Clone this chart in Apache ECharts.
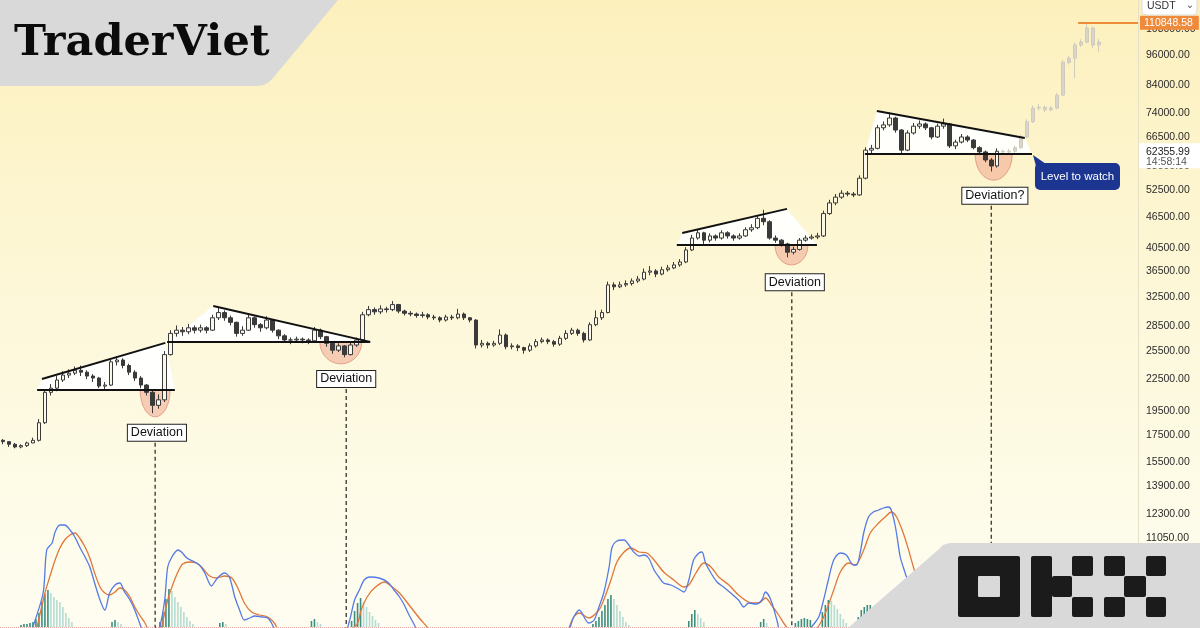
<!DOCTYPE html>
<html>
<head>
<meta charset="utf-8">
<script src="https://cdn.jsdelivr.net/npm/echarts@6/dist/echarts.min.js"></script>
<style>
  html, body { margin: 0; padding: 0; }
  #chart { width: 1200px; height: 628px; }
</style>
</head>
<body>
<div id="chart"></div>
<script>
// BTC/USDT candles, thousand USDT: [open, close, low, high]
const candles = [
  [17.1, 17.0, 16.8, 17.2], [17.0, 16.8, 16.6, 17.0], [16.8, 16.6, 16.5, 16.9], [16.6, 16.7, 16.5, 16.8],
  [16.7, 16.9, 16.6, 17.0], [16.9, 17.1, 16.9, 17.3], [17.1, 18.5, 17.0, 18.8], [18.5, 21.2, 18.4, 21.5],
  [21.2, 21.6, 20.9, 22.0], [21.6, 22.4, 21.3, 22.8], [22.4, 22.9, 22.2, 23.3], [22.9, 23.1, 22.6, 23.5],
  [23.1, 23.4, 22.9, 23.8], [23.4, 23.2, 22.8, 23.9], [23.2, 22.8, 22.5, 23.4], [22.8, 22.6, 22.2, 23.0],
  [22.6, 21.8, 21.6, 22.7], [21.8, 21.9, 21.5, 22.2], [21.9, 24.3, 21.8, 24.6], [24.3, 24.5, 23.9, 24.9],
  [24.5, 23.9, 23.6, 24.7], [23.9, 23.2, 22.9, 24.1], [23.2, 22.6, 22.3, 23.4], [22.6, 21.9, 21.6, 22.8],
  [21.9, 21.2, 20.9, 22.0], [21.2, 20.0, 19.3, 21.4], [20.0, 20.5, 19.7, 21.0], [20.5, 25.1, 20.3, 25.5],
  [25.1, 27.6, 25.0, 28.0], [27.6, 28.0, 27.2, 28.6], [28.0, 27.8, 27.3, 28.4], [27.8, 28.3, 27.5, 28.8],
  [28.3, 28.0, 27.6, 28.6], [28.0, 28.3, 27.7, 28.7], [28.3, 28.0, 27.6, 28.5], [28.0, 29.6, 27.9, 30.0],
  [29.6, 30.3, 29.3, 31.0], [30.3, 29.6, 29.2, 30.6], [29.6, 29.0, 28.6, 29.9], [29.0, 27.6, 27.2, 29.1],
  [27.6, 28.0, 27.3, 28.5], [28.0, 29.6, 27.9, 30.0], [29.6, 28.7, 28.3, 29.8], [28.7, 28.3, 27.8, 28.9],
  [28.3, 29.3, 28.1, 29.8], [29.3, 28.0, 27.7, 29.4], [28.0, 27.3, 26.9, 28.1], [27.3, 26.8, 26.5, 27.5],
  [26.8, 26.8, 26.3, 27.1], [26.8, 26.9, 26.5, 27.2], [26.9, 26.8, 26.4, 27.1], [26.8, 26.7, 26.3, 27.0],
  [26.7, 28.0, 26.6, 28.4], [28.0, 27.2, 26.9, 28.2], [27.2, 26.4, 26.0, 27.3], [26.4, 25.6, 25.2, 26.6],
  [25.6, 26.1, 25.4, 26.4], [26.1, 25.1, 24.8, 26.2], [25.1, 26.2, 25.0, 26.5], [26.2, 26.8, 26.0, 27.1],
  [26.8, 30.0, 26.7, 30.4], [30.0, 30.7, 29.8, 31.2], [30.7, 30.4, 30.0, 31.0], [30.4, 30.8, 30.1, 31.3],
  [30.8, 30.7, 30.3, 31.1], [30.7, 31.4, 30.5, 31.9], [31.4, 30.5, 30.2, 31.5], [30.5, 30.2, 29.9, 30.7],
  [30.2, 30.1, 29.8, 30.5], [30.1, 29.9, 29.6, 30.3], [29.9, 30.0, 29.6, 30.4], [30.0, 29.7, 29.4, 30.2],
  [29.7, 29.6, 29.3, 30.0], [29.6, 29.3, 29.0, 29.8], [29.3, 29.7, 29.1, 30.0], [29.7, 29.6, 29.3, 30.0],
  [29.6, 30.1, 29.4, 30.8], [30.1, 29.6, 29.3, 30.3], [29.6, 29.3, 29.0, 29.7], [29.3, 26.2, 25.8, 29.4],
  [26.2, 26.4, 25.9, 26.8], [26.4, 26.2, 25.8, 26.6], [26.2, 26.4, 26.0, 26.7], [26.4, 27.4, 26.2, 28.1],
  [27.4, 26.0, 25.7, 27.6], [26.0, 26.1, 25.7, 26.4], [26.1, 25.9, 25.5, 26.3], [25.9, 25.6, 25.2, 26.0],
  [25.6, 26.1, 25.4, 26.4], [26.1, 26.6, 25.9, 26.9], [26.6, 26.8, 26.4, 27.1], [26.8, 26.6, 26.3, 27.0],
  [26.6, 26.3, 26.0, 26.8], [26.3, 27.0, 26.1, 27.3], [27.0, 27.6, 26.8, 28.0], [27.6, 28.0, 27.4, 28.3],
  [28.0, 27.6, 27.3, 28.2], [27.6, 26.8, 26.5, 27.8], [26.8, 28.7, 26.7, 29.0], [28.7, 29.6, 28.5, 30.6],
  [29.6, 30.3, 29.3, 30.7], [30.3, 34.3, 30.2, 34.8], [34.3, 34.0, 33.5, 34.7], [34.0, 34.3, 33.8, 34.8],
  [34.3, 34.5, 34.0, 35.0], [34.5, 34.9, 34.2, 35.3], [34.9, 35.2, 34.6, 35.7], [35.2, 36.3, 35.0, 36.9],
  [36.3, 36.5, 35.8, 37.3], [36.5, 36.0, 35.5, 36.8], [36.0, 36.7, 35.8, 37.2], [36.7, 37.0, 36.4, 37.5],
  [37.0, 37.5, 36.8, 38.0], [37.5, 38.0, 37.2, 38.5], [38.0, 40.1, 37.8, 40.6], [40.1, 42.3, 39.9, 42.9],
  [42.3, 43.3, 42.0, 44.0], [43.3, 41.9, 41.2, 43.5], [41.9, 42.7, 41.5, 43.2], [42.7, 42.3, 41.8, 43.0],
  [42.3, 43.3, 42.0, 43.8], [43.3, 42.7, 42.2, 43.6], [42.7, 42.3, 41.8, 43.0], [42.3, 42.7, 42.0, 43.2],
  [42.7, 43.9, 42.5, 44.4], [43.9, 44.3, 43.5, 45.0], [44.3, 46.2, 44.0, 46.8], [46.2, 45.5, 44.8, 48.0],
  [45.5, 42.3, 42.0, 45.8], [42.3, 41.9, 41.4, 42.8], [41.9, 41.2, 40.7, 42.1], [41.2, 39.7, 38.8, 41.4],
  [39.7, 40.2, 39.3, 40.7], [40.2, 41.9, 40.0, 42.3], [41.9, 42.3, 41.6, 42.8], [42.3, 42.5, 42.0, 43.0],
  [42.5, 42.7, 42.1, 43.3], [42.7, 47.2, 42.5, 47.8], [47.2, 49.5, 46.9, 50.2], [49.5, 50.8, 49.0, 51.5],
  [50.8, 51.7, 50.4, 52.4], [51.7, 51.5, 51.0, 52.2], [51.5, 51.3, 50.8, 52.0], [51.3, 55.3, 51.1, 56.0],
  [55.3, 62.7, 55.0, 63.5], [62.7, 63.2, 61.8, 64.2], [63.2, 69.3, 62.9, 70.2], [69.3, 70.2, 68.5, 71.3],
  [70.2, 72.4, 69.6, 74.2], [72.4, 68.6, 67.8, 72.8], [68.6, 62.7, 61.8, 68.9], [62.7, 67.7, 62.4, 68.5],
  [67.7, 69.8, 67.2, 70.8], [69.8, 70.5, 69.0, 71.6], [70.5, 69.3, 68.6, 71.0], [69.3, 66.5, 65.8, 69.6],
  [66.5, 69.8, 66.2, 70.6], [69.8, 70.5, 69.0, 72.2], [70.5, 63.9, 63.3, 70.8], [63.9, 65.0, 63.0, 65.7],
  [65.0, 66.5, 64.6, 67.4], [66.5, 65.6, 65.0, 67.0], [65.6, 63.4, 62.9, 65.9], [63.4, 62.2, 61.6, 63.8],
  [62.2, 60.0, 59.4, 62.6], [60.0, 58.4, 57.0, 60.5], [58.4, 62.4, 58.0, 63.2],
  // projection (drawn in grey)
  [62.4, 62.2, 61.6, 62.9], [62.2, 62.4, 61.8, 63.0], [62.4, 63.4, 62.0, 64.0], [63.4, 66.5, 63.1, 67.2],
  [66.5, 71.2, 66.2, 72.0], [71.2, 75.7, 70.8, 76.6], [75.7, 76.0, 74.9, 77.0], [76.0, 75.1, 74.3, 76.5],
  [75.1, 75.7, 74.6, 76.4], [75.7, 80.2, 75.3, 81.0], [80.2, 92.9, 79.8, 93.8], [92.9, 94.6, 92.0, 95.5],
  [94.6, 100.4, 86.5, 101.5], [100.4, 101.7, 99.5, 103.0], [101.7, 108.3, 101.2, 110.85], [108.3, 100.4, 99.0, 109.0],
  [100.4, 101.7, 97.5, 103.0]
]
const projectionStart = 167
const slotCount = 190

const priceTicks = [11050, 12300, 13900, 15500, 17500, 19500, 22500, 25500, 28500, 32500, 36500,
  40500, 46500, 52500, 58500, 66500, 74000, 84000, 96000, 108000]
const yMin = 7380
const yMax = 122800
const lastPrice = 62355.99
const lastTime = '14:58:14'
const athPrice = 110848.58
const athFrom = 179.5

// indicator (arbitrary units): [bar index, value]
const macdLine = [[4.5,-10],[5.0,0],[6.7,34],[7.3,77],[8.2,84],[8.7,95],[9.5,102],[10.3,102],[11.2,97],[12.0,90],
  [12.8,80],[13.7,70],[14.5,60],[15.3,44],[16.2,27],[17.0,17],[17.8,34],[18.7,42],[19.5,44],[20.3,35],[21.2,27],
  [22.0,17],[22.8,4],[23.7,-10],[25.0,-25],[26.2,0],[27.0,27],[27.5,60],[28.2,70],[29.2,77],[29.8,75],[30.7,69],
  [32.0,65],[32.8,62],[33.7,54],[34.8,41],[35.8,49],[37.0,54],[37.8,50],[38.7,30],[39.5,17],[40.3,7],[41.2,9],
  [42.0,11],[43.2,10],[44.2,9],[45.0,2],[46.2,-15],[49.5,-30],[56.2,-20],[57.8,5],[58.7,27],[59.5,37],[60.3,47],
  [61.2,50],[62.8,49],[64.2,45],[65.3,37],[66.2,30],[67.0,22],[67.8,12],[68.7,2],[70.3,-15],[80,-30],[93.7,-10],
  [95.3,10],[96.2,17],[97.8,4],[98.7,7],[99.5,20],[100.3,34],[101.2,60],[101.7,80],[102.5,86],[103.7,87],[104.5,82],
  [105.3,75],[106.2,71],[107.0,72],[107.8,69],[108.7,57],[109.5,50],[110.3,44],[111.5,42],[112.8,38],[113.7,35],
  [114.5,47],[115.3,67],[116.2,74],[116.7,75],[117.3,64],[118.2,54],[119.2,45],[120.3,40],[121.5,34],[122.8,27],
  [123.7,20],[124.5,24],[125.7,23],[126.7,27],[127.3,35],[128.2,27],[129.2,7],[130.3,-15],[132.8,-20],[135.0,0],
  [136.2,10],[137.0,27],[137.8,47],[138.7,67],[139.8,74],[140.8,72],[142.0,62],[142.5,62],[143.2,77],[143.7,94],
  [144.5,110],[145.3,115],[146.2,117],[147.0,119],[147.8,120],[148.3,117],[149.0,100],[149.8,70],[150.3,60],
  [151.0,47],[152.0,25],[153.7,5],[155.3,-10]]
const signalLine = [[5.7,0],[7.0,34],[7.8,50],[8.7,67],[9.5,79],[10.3,87],[11.2,92],[12.0,94],[12.8,89],[13.7,80],
  [14.5,69],[15.3,54],[16.2,40],[17.0,34],[17.8,32],[18.7,35],[19.5,39],[20.3,37],[21.2,30],[22.0,20],[22.8,12],
  [23.7,4],[24.5,-5],[26.2,-10],[26.5,0],[27.5,27],[28.2,40],[29.2,55],[30.0,63],[31.2,65],[32.3,64],[33.3,59],
  [34.5,51],[35.7,49],[37.0,51],[38.2,49],[39.2,39],[40.3,24],[41.5,15],[42.8,12],[44.2,10],[45.3,4],[46.5,-8],
  [52.8,-25],[59.0,2],[59.8,17],[60.8,30],[62.0,39],[63.7,45],[65.0,40],[66.2,34],[67.8,22],[69.5,9],[70.8,0],
  [72.8,-15],[92.8,-15],[95.3,10],[96.2,14],[97.8,9],[99.5,17],[100.3,27],[101.5,47],[102.5,65],[103.7,75],
  [104.8,79],[106.2,75],[107.5,74],[108.7,67],[110.3,55],[112.0,47],[113.7,40],[114.5,42],[115.7,54],[117.0,64],
  [118.2,60],[119.5,50],[121.2,42],[122.8,32],[124.5,25],[126.2,24],[127.3,29],[128.3,22],[129.5,12],[130.8,0],
  [132.8,-15],[135.3,-5],[136.5,4],[137.5,17],[138.7,37],[139.8,55],[141.2,64],[142.3,62],[143.7,77],[144.8,94],
  [146.2,104],[147.3,110],[148.3,115],[149.2,110],[150.3,94],[151.2,77],[152.0,60],[153.7,30],[156.2,0]]
const histRising = [[3.0,2],[3.5,3],[4.0,3],[4.5,4],[5.0,5],[5.5,8],[6.0,14],[6.5,25],[7.0,33],[7.5,37],
  [18.2,5],[18.7,7],[26.2,5],[26.7,15],[27.2,28],[27.7,38],[36.2,4],[36.7,5],[51.5,6],[52.0,8],
  [58.2,6],[58.7,16],[59.2,24],[59.7,29],[98.5,3],[99.0,6],[99.5,10],[100.0,16],[100.5,22],[101.0,28],[101.5,32],
  [114.5,6],[115.0,13],[115.5,17],[126.5,5],[127.0,8],[132.3,4],[132.8,6],[133.3,8],[133.8,9],[134.3,8],[134.8,7],
  [136.8,15],[137.3,22],[137.8,27],[142.8,10],[143.3,17],[143.8,20],[144.3,22],[144.8,22]]
const histFalling = [[8.0,34],[8.5,30],[9.0,27],[9.5,25],[10.0,20],[10.5,14],[11.0,9],[11.5,5],
  [19.2,5],[19.7,3],[28.2,36],[28.7,30],[29.2,25],[29.7,20],[30.2,15],[30.7,10],[31.2,6],[31.7,3],
  [37.2,3],[52.5,5],[53.0,3],[60.2,25],[60.7,20],[61.2,15],[61.7,11],[62.2,7],[62.7,4],
  [102.0,28],[102.5,22],[103.0,16],[103.5,10],[104.0,5],[104.5,2],[116.0,13],[116.5,9],[117.0,5],
  [127.5,4],[138.3,26],[138.8,22],[139.3,18],[139.8,13],[140.3,8],[140.8,4],[145.3,18],[145.8,14]]

// drawings, in [bar index, price]
const patternFills = [
  [[5.7, 21420], [6.5, 22500], [27.1, 26450], [28.7, 21420]],
  [[27.4, 26570], [35.1, 31200], [61.3, 26570]],
  [[112.5, 41000], [113.4, 43260], [130.9, 48200], [135.9, 41000]],
  [[143.9, 61600], [145.9, 74700], [170.6, 66200], [171.8, 61600]]
]
const trendLines = [
  [[6.5, 22500], [27.1, 26450]], [[5.7, 21420], [28.7, 21420]],
  [[35.1, 31200], [61.3, 26570]], [[27.4, 26570], [61.3, 26570]],
  [[113.4, 43260], [130.9, 48200]], [[112.5, 41000], [135.9, 41000]],
  [[145.9, 74700], [170.6, 66200]], [[143.9, 61600], [171.8, 61600]]
]
// [left, right, rim price, bottom price]
const deviations = [
  [22.9, 27.9, 21420, 19000],
  [52.9, 59.9, 26570, 24080],
  [128.9, 134.4, 41000, 37500],
  [162.3, 168.5, 61600, 54800]
]
// [label index, line index, label price, text]
const callouts = [
  [25.7, 25.4, 17680, 'Deviation'],
  [57.3, 57.3, 22500, 'Deviation'],
  [132.2, 131.7, 34700, 'Deviation'],
  [165.6, 165.0, 51100, 'Deviation?']
]
const watchPoint = [171.8, 61600]

const chart = echarts.init(document.getElementById('chart'))

const candleData = candles.map((row, i) => {
  const item = { value: [i, ...row.map(v => v * 1000)] }
  if (i >= projectionStart) {
    item.itemStyle = { color: '#d9d5c8', color0: '#d9d5c8', borderColor: '#cfcabb', borderColor0: '#cfcabb' }
  }
  return item
})

const renderFill = (params, api) => {
  const pts = patternFills[params.dataIndex].map(p => api.coord(p))
  return { type: 'polygon', shape: { points: pts }, style: { fill: 'rgba(255,255,255,0.93)' } }
}

const renderDeviation = (params, api) => {
  const d = deviations[params.dataIndex]
  const l = api.coord([d[0], d[2]])
  const r = api.coord([d[1], d[2]])
  const b = api.coord([(d[0] + d[1]) / 2, d[3]])
  const cx = (l[0] + r[0]) / 2
  const rx = (r[0] - l[0]) / 2
  const ry = b[1] - l[1]
  const pts = []
  for (let k = 0; k <= 30; k++) {
    const a = Math.PI * k / 30
    pts.push([cx + rx * Math.cos(a), l[1] + ry * Math.sin(a)])
  }
  return {
    type: 'polygon', shape: { points: pts },
    style: { fill: 'rgba(238,148,128,0.45)', stroke: 'rgba(214,118,98,0.6)', lineWidth: 1 }
  }
}

const renderTrend = (params, api) => {
  const seg = trendLines[params.dataIndex]
  const a = api.coord(seg[0])
  const b = api.coord(seg[1])
  return {
    type: 'line', shape: { x1: a[0], y1: a[1], x2: b[0], y2: b[1] },
    style: { stroke: '#111', lineWidth: 2 }
  }
}

const renderCallout = (params, api) => {
  const c = callouts[params.dataIndex]
  const p = api.coord([c[0], c[2]])
  const lx = api.coord([c[1], c[2]])[0]
  const bottom = api.coord([c[1], yMin])[1]
  return {
    type: 'group',
    children: [
      { type: 'line', shape: { x1: lx, y1: p[1] + 10, x2: lx, y2: bottom },
        style: { stroke: '#222', lineWidth: 1.2, lineDash: [4, 3] } },
      { type: 'text', x: p[0], y: p[1],
        style: { text: c[3], font: '12.5px "Liberation Sans", Arial, sans-serif', fill: '#111',
          align: 'center', verticalAlign: 'middle', backgroundColor: '#fff',
          borderColor: '#222', borderWidth: 1, padding: [2, 3, 1, 3] } }
    ]
  }
}

const renderWatch = (params, api) => {
  const p = api.coord(watchPoint)
  const fill = '#1b3591'
  return {
    type: 'group',
    children: [
      { type: 'polygon', shape: { points: [[p[0] + 1, p[1] + 1], [p[0] + 4, p[1] + 12], [p[0] + 14, p[1] + 10]] },
        style: { fill } },
      { type: 'rect', shape: { x: p[0] + 3, y: p[1] + 9, width: 85, height: 27, r: 5 }, style: { fill } },
      { type: 'text', x: p[0] + 45.5, y: p[1] + 23,
        style: { text: 'Level to watch', font: '11.5px "Liberation Sans", Arial, sans-serif', fill: '#fff',
          align: 'center', verticalAlign: 'middle' } }
    ]
  }
}

// last price tag on the price scale
const renderLastTag = (params, api) => {
  const p = api.coord([slotCount - 0.5, lastPrice])
  const font = '10.5px "Liberation Sans", Arial, sans-serif'
  return {
    type: 'group',
    children: [
      { type: 'rect', shape: { x: p[0] + 1, y: p[1] - 8, width: 62, height: 25 }, style: { fill: '#fff' } },
      { type: 'text', x: p[0] + 8, y: p[1] + 0.5, style: { text: lastPrice.toFixed(2), font, fill: '#222', verticalAlign: 'middle' } },
      { type: 'text', x: p[0] + 8, y: p[1] + 11, style: { text: lastTime, font, fill: '#555', verticalAlign: 'middle' } }
    ]
  }
}

const customBase = { type: 'custom', xAxisIndex: 0, yAxisIndex: 0, silent: true, animation: false, clip: false }

const okxBlocks = [
  [958, 556, 62, 61], [1031, 556, 21, 61], [1052, 576, 20, 21], [1072, 556, 21, 20], [1072, 597, 21, 20],
  [1104, 556, 21, 20], [1146, 556, 20, 20], [1124, 576, 22, 21], [1104, 597, 21, 20], [1146, 597, 20, 20]
]

const option = {
  animation: false,
  backgroundColor: {
    type: 'linear', x: 0, y: 0, x2: 0, y2: 1,
    colorStops: [{ offset: 0, color: '#fcf0bd' }, { offset: 0.5, color: '#fdf8da' }, { offset: 1, color: '#fefdf1' }]
  },
  grid: [
    { left: 0, right: 62, top: 0, bottom: 0 },
    { left: 0, right: 62, top: 500, bottom: 1 }
  ],
  xAxis: [
    { type: 'value', gridIndex: 0, min: -0.5, max: slotCount - 0.5, show: false },
    { type: 'value', gridIndex: 1, min: -0.5, max: slotCount - 0.5, show: false }
  ],
  yAxis: [
    {
      type: 'log', gridIndex: 0, position: 'right', min: yMin, max: yMax,
      axisLine: { show: true, onZero: false, lineStyle: { color: '#e6e0c6' } },
      axisTick: { show: false },
      splitLine: { show: false },
      axisLabel: {
        customValues: priceTicks,
        formatter: v => Number(v).toFixed(2),
        color: '#2b2b2b', fontSize: 10.5, fontFamily: '"Liberation Sans", Arial, sans-serif', margin: 8
      }
    },
    { type: 'value', gridIndex: 1, min: 0, max: 127, show: false }
  ],
  series: [
    Object.assign({}, customBase, { name: 'fills', z: 1, renderItem: renderFill, data: patternFills.map(p => p[0]) }),
    Object.assign({}, customBase, { name: 'deviations', z: 1, renderItem: renderDeviation,
      data: deviations.map(d => [d[0], d[2]]) }),
    {
      name: 'BTCUSDT', type: 'candlestick', xAxisIndex: 0, yAxisIndex: 0, z: 2, clip: false,
      barWidth: 4,
      encode: { x: 0, y: [1, 2, 3, 4] },
      itemStyle: { color: '#fbf8ea', color0: '#3a3a3a', borderColor: '#3a3a3a', borderColor0: '#3a3a3a', borderWidth: 1 },
      data: candleData,
      markLine: {
        silent: true, symbol: ['none', 'none'], animation: false,
        data: [
          [
            {
              coord: [athFrom, athPrice],
              lineStyle: { color: '#ef8a3a', width: 2, type: 'solid' },
              label: {
                position: 'end', distance: 2, formatter: athPrice.toFixed(2),
                backgroundColor: '#ef8a3a', color: '#fff', padding: [2, 6, 1, 4],
                fontSize: 10.5, fontFamily: '"Liberation Sans", Arial'
              }
            },
            { coord: [slotCount - 0.5, athPrice] }
          ]
        ]
      }
    },
    Object.assign({}, customBase, { name: 'trends', z: 3, renderItem: renderTrend, data: trendLines.map(l => l[0]) }),
    Object.assign({}, customBase, { name: 'callouts', z: 4, renderItem: renderCallout,
      data: callouts.map(c => [c[0], c[2]]) }),
    Object.assign({}, customBase, { name: 'watch', z: 4, renderItem: renderWatch, data: [watchPoint] }),
    Object.assign({}, customBase, { name: 'last', z: 6, renderItem: renderLastTag, data: [[slotCount - 0.5, lastPrice]] }),
    {
      name: 'hist up', type: 'bar', xAxisIndex: 1, yAxisIndex: 1, barWidth: 1.6, barGap: '-100%',
      itemStyle: { color: '#3b8e80' }, data: histRising
    },
    {
      name: 'hist down', type: 'bar', xAxisIndex: 1, yAxisIndex: 1, barWidth: 1.6, barGap: '-100%',
      itemStyle: { color: '#b4dcd4' }, data: histFalling
    },
    {
      name: 'signal', type: 'line', xAxisIndex: 1, yAxisIndex: 1, showSymbol: false, smooth: 0.3,
      lineStyle: { color: '#e0773a', width: 1.3 }, data: signalLine
    },
    {
      name: 'macd', type: 'line', xAxisIndex: 1, yAxisIndex: 1, showSymbol: false, smooth: 0.3,
      lineStyle: { color: '#557ae4', width: 1.3 }, data: macdLine,
      markLine: {
        silent: true, symbol: ['none', 'none'], label: { show: false },
        lineStyle: { color: '#e8a3a3', type: 'dotted', width: 1 },
        data: [{ yAxis: 0 }]
      }
    }
  ],
  graphic: [
    { type: 'polygon', z: 100,
      shape: { points: [[0, 0], [338, 0], [273, 78], [269, 82], [264, 85], [256, 86], [0, 86]] },
      style: { fill: '#d9d9d9' } },
    { type: 'text', z: 101, x: 14, y: 44,
      style: { text: 'TraderViet', font: 'bold 43px "DejaVu Serif", serif', fill: '#0b0b0b', verticalAlign: 'middle' } },
    { type: 'polygon', z: 100,
      shape: { points: [[848, 628], [938, 550], [943, 545], [950, 543], [958, 543], [1200, 543], [1200, 628]] },
      style: { fill: '#d9d9d9' } },
    ...okxBlocks.map(b => ({ type: 'rect', z: 101, shape: { x: b[0], y: b[1], width: b[2], height: b[3], r: 2 }, style: { fill: '#1b1b1b' } })),
    { type: 'rect', z: 102, shape: { x: 978, y: 576, width: 22, height: 21, r: 1 }, style: { fill: '#d9d9d9' } },
    { type: 'rect', z: 100, shape: { x: 1142, y: -4, width: 55, height: 19, r: 4 }, style: { fill: '#fff', stroke: '#dcdcdc', lineWidth: 1 } },
    { type: 'text', z: 101, x: 1147, y: 6, style: { text: 'USDT', font: '10.5px "Liberation Sans", Arial', fill: '#333', verticalAlign: 'middle' } },
    { type: 'text', z: 101, x: 1190, y: 5, style: { text: '⌄', font: '10px "DejaVu Sans"', fill: '#555', verticalAlign: 'middle', align: 'center' } }
  ]
}

chart.setOption(option)
</script>
</body>
</html>
